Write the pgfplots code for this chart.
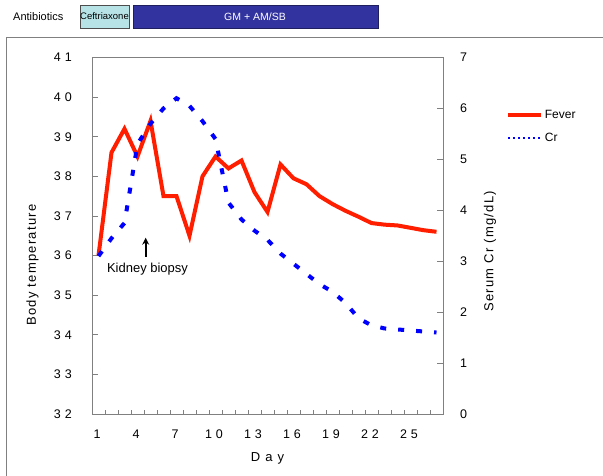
\documentclass[border=0pt]{standalone}
\usepackage{fontspec}
\setmainfont{Liberation Sans}
\usepackage{pgfplots}
\pgfplotsset{compat=1.18}
\usetikzlibrary{arrows.meta}
\definecolor{fevred}{RGB}{255,30,0}
\definecolor{crblue}{RGB}{0,0,255}
\definecolor{axgray}{RGB}{128,128,128}
\definecolor{ceftc}{RGB}{183,227,230}
\definecolor{gmblue}{RGB}{51,51,160}
\newcommand\dd[2]{#1\hspace{4pt}#2}
\pgfplotstableread{
day temp
1 36.0
2 38.6
3 39.2
4 38.5
5 39.4
6 37.5
7 37.5
8 36.5
9 38.0
10 38.5
11 38.2
12 38.4
13 37.6
14 37.1
15 38.3
16 37.95
17 37.8
18 37.5
19 37.3
20 37.13
21 36.98
22 36.82
23 36.78
24 36.76
25 36.7
26 36.64
27 36.6
}\fever
\pgfplotstableread{
day cr
1 3.1
2 3.45
3 3.75
4 5.3
5 5.7
6 6.0
7 6.2
8 6.05
9 5.75
10 5.4
11 4.15
12 3.82
13 3.6
14 3.42
15 3.15
16 2.95
17 2.75
18 2.55
19 2.4
20 2.18
21 1.88
22 1.74
23 1.68
24 1.66
25 1.64
26 1.62
27 1.6
}\crtab
\begin{document}
\begin{tikzpicture}
\useasboundingbox (0pt,0pt) rectangle (603pt,476pt);
\draw[axgray, line width=0.9pt] (6pt,-5pt) -- (6pt,439pt) -- (610pt,439pt);
\node[anchor=west, font=\fontsize{11}{13}\selectfont, inner sep=0pt] at (13pt,459pt) {Antibiotics};
\draw[axgray!60!black, fill=ceftc, line width=0.6pt] (80pt,448pt) rectangle (129pt,471pt);
\node[font=\fontsize{9.5}{11}\selectfont, inner sep=0pt] at (104.5pt,459.5pt) {Ceftriaxone};
\draw[gmblue!60!black, fill=gmblue, line width=0.6pt] (133pt,448pt) rectangle (378pt,471pt);
\node[white, font=\fontsize{10.5}{12}\selectfont, inner sep=0pt] at (255pt,459pt) {GM + AM/SB};

\begin{axis}[
  at={(92pt,62pt)}, anchor=south west, width=351pt, height=356.5pt, scale only axis,
  xmin=0.5, xmax=27.5, ymin=32, ymax=41,
  axis line style={axgray, line width=0.8pt},
  every tick/.style={axgray, line width=0.8pt},
  tick align=inside,
  xtick={1,4,...,25},
  xticklabels={1,4,7,\dd10,\dd13,\dd16,\dd19,\dd22,\dd25},
  major x tick style={draw=none},
  minor xtick={1.5,2.5,...,26.5},
  minor tick length=3.5pt,
  major tick length=5.5pt,
  ytick={32,...,41},
  yticklabels={\dd32,\dd33,\dd34,\dd35,\dd36,\dd37,\dd38,\dd39,\dd40,\dd41},
  ytick pos=left, xtick pos=bottom,
  ticklabel style={font=\fontsize{12.5}{14}\selectfont},
  yticklabel style={anchor=east, inner sep=0pt, xshift=-20pt},
  xticklabel style={anchor=north, inner sep=0pt, yshift=-16pt, xshift=-1.5pt},
  xlabel={D\hspace{5pt}a\hspace{5pt}y},
  xlabel style={at={(axis description cs:0.5,-0.1234)}, anchor=center, font=\fontsize{13}{15}\selectfont},
  ylabel={Body temperature},
  ylabel style={at={(axis description cs:-0.1695,0.418)}, anchor=center, font=\fontsize{13}{15}\selectfont\addfontfeature{LetterSpace=10}},
  clip=false,
]
\addplot[fevred, line width=4pt] table[x=day, y=temp] {\fever};
\draw[-{Stealth[length=7pt,width=7pt]}, line width=1.8pt, black] (axis cs:4.63,35.97) -- (axis cs:4.63,36.45);
\node[font=\fontsize{13}{15}\selectfont] at (axis cs:4.77,35.66) {Kidney biopsy};
\end{axis}

\begin{axis}[
  at={(92pt,62pt)}, anchor=south west, width=351pt, height=356.5pt, scale only axis,
  xmin=0.5, xmax=27.5, ymin=0, ymax=7,
  axis x line=none,
  axis y line*=right,
  axis line style={axgray, line width=0.8pt, -},
  every tick/.style={axgray, line width=0.8pt},
  tick align=inside,
  major tick length=5.5pt,
  ytick={0,...,7},
  yticklabels={0,1,2,3,4,5,6,7},
  ticklabel style={font=\fontsize{12.5}{14}\selectfont},
  yticklabel style={anchor=west, inner sep=0pt, xshift=17pt},
  ylabel={Serum Cr (mg/dL)},
  ylabel style={at={(axis description cs:1.134,0.456)}, anchor=center, rotate=0, font=\fontsize{13}{15}\selectfont\addfontfeature{LetterSpace=10}},
  legend style={at={(1.18,0.858)}, anchor=north west, draw=none, fill=none,
    font=\fontsize{12}{14}\selectfont, inner sep=0pt, row sep=9pt,
    nodes={inner sep=2pt}},
  legend cell align=left,
  clip=false,
]
\addlegendimage{fevred, line width=3.5pt, legend image code/.code={\draw[fevred, line width=3.5pt] (0pt,0pt) -- (33pt,0pt);}}
\addlegendentry{Fever}
\addplot[crblue, line width=4pt, dash pattern=on 6pt off 12pt,
  legend image code/.code={\draw[crblue, line width=1.6pt, dash pattern=on 1.6pt off 3.4pt] (0pt,0pt) -- (33pt,0pt);}]
  table[x=day, y=cr] {\crtab};
\addlegendentry{Cr}
\end{axis}
\end{tikzpicture}
\end{document}
